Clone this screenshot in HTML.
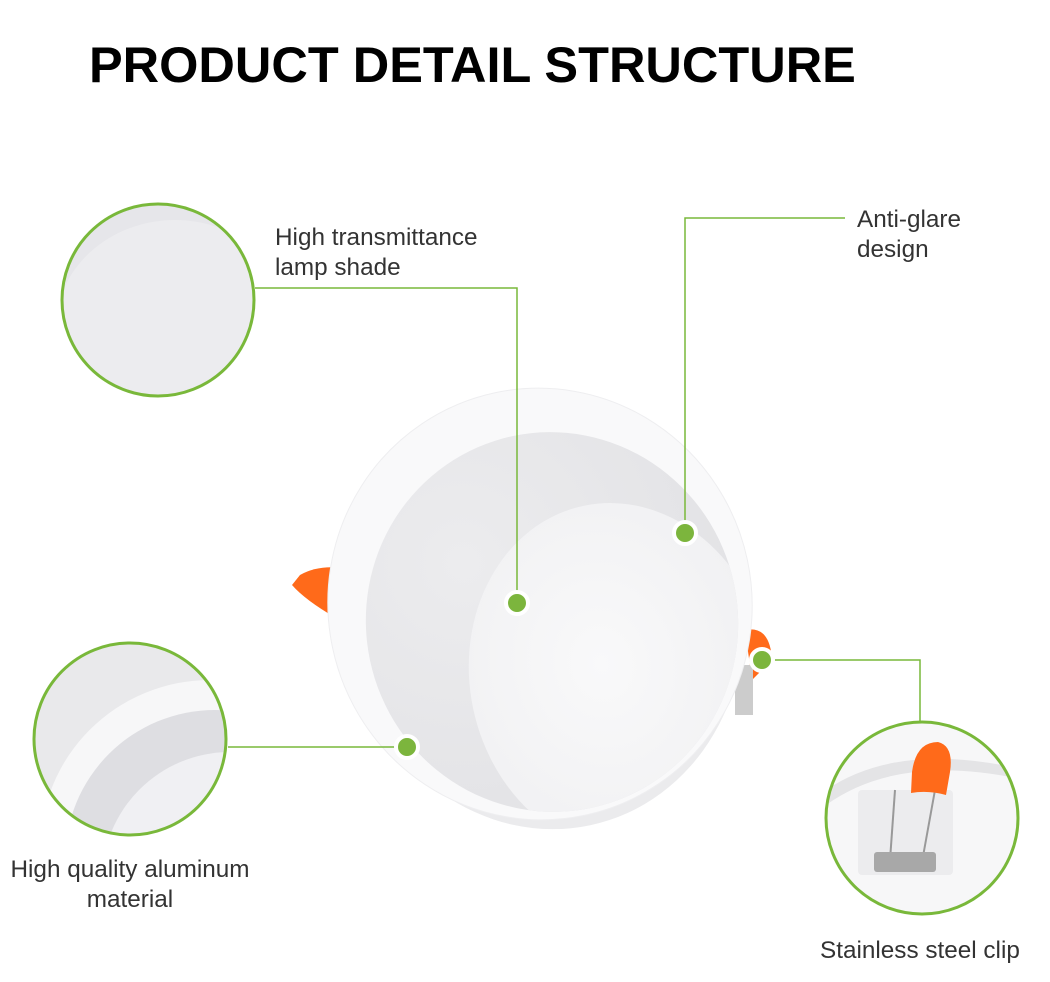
<!DOCTYPE html>
<html><head><meta charset="utf-8"><style>
html,body{margin:0;padding:0;background:#fff;}
svg{display:block;}
text{font-family:"Liberation Sans",Arial,sans-serif;}
</style></head><body>
<svg width="1050" height="982" viewBox="0 0 1050 982" xmlns="http://www.w3.org/2000/svg">
<defs>
<radialGradient id="cav" cx="0.3" cy="0.3" r="0.8"><stop offset="0" stop-color="#ececee"/><stop offset="1" stop-color="#e2e2e5"/></radialGradient>
<radialGradient id="shade" cx="0.45" cy="0.45" r="0.6"><stop offset="0" stop-color="#f9f9fa"/><stop offset="1" stop-color="#f0f0f2"/></radialGradient>
<clipPath id="cavclip"><ellipse cx="552" cy="622" rx="186" ry="190" transform="rotate(-12 552 622)"/></clipPath>
<clipPath id="c1"><circle cx="158" cy="300" r="96"/></clipPath>
<clipPath id="c2"><circle cx="130" cy="739" r="96"/></clipPath>
<clipPath id="c3"><circle cx="922" cy="818" r="96"/></clipPath>
</defs>
<rect width="1050" height="982" fill="#fff"/>
<text x="89" y="82" font-size="50.5" font-weight="bold" fill="#000">PRODUCT DETAIL STRUCTURE</text>

<!-- lamp -->
<path d="M300 575 Q318 565 342 568 L336 618 Q305 600 292 585 Z" fill="#ff6a1a"/>
<path d="M745 630 Q770 625 772 660 L752 680 Z" fill="#ff6a1a"/>
<rect x="735" y="665" width="18" height="50" fill="#ccc"/>
<ellipse cx="545" cy="612" rx="198" ry="218" fill="#ebebed" transform="rotate(-12 545 612)"/>
<ellipse cx="540" cy="604" rx="212" ry="216" fill="#f9f9fa" stroke="#eeeef0" transform="rotate(-12 540 604)"/>
<ellipse cx="552" cy="622" rx="186" ry="190" fill="url(#cav)" transform="rotate(-12 552 622)"/>
<g clip-path="url(#cavclip)">
<ellipse cx="620" cy="678" rx="150" ry="176" fill="url(#shade)" transform="rotate(-12 620 678)"/>
</g>

<!-- circle 1 -->
<g clip-path="url(#c1)"><rect x="60" y="200" width="200" height="200" fill="#e6e6ea"/><ellipse cx="175" cy="330" rx="120" ry="110" fill="#ececef"/></g>
<circle cx="158" cy="300" r="96" fill="none" stroke="#79b83a" stroke-width="3"/>
<!-- circle 2 -->
<g clip-path="url(#c2)"><rect x="30" y="640" width="200" height="200" fill="#e9e9eb"/>
<circle cx="210" cy="850" r="170" fill="#f7f7f8"/><circle cx="215" cy="860" r="150" fill="#dedee2"/><circle cx="230" cy="880" r="128" fill="#f0f0f3"/></g>
<circle cx="130" cy="739" r="96" fill="none" stroke="#79b83a" stroke-width="3"/>
<!-- circle 3 -->
<g clip-path="url(#c3)"><rect x="820" y="715" width="205" height="205" fill="#f7f7f8"/>
<path d="M826 790 Q900 740 1025 770 L1025 780 Q900 752 826 805 Z" fill="#e4e4e6"/>
<rect x="858" y="790" width="95" height="85" rx="4" fill="#ececee"/>
<line x1="895" y1="790" x2="890" y2="860" stroke="#999" stroke-width="2"/>
<line x1="935" y1="790" x2="922" y2="862" stroke="#999" stroke-width="2"/>
<path d="M911 793 L912 772 Q916 742 938 742 Q954 746 950 772 L946 795 Q928 790 911 793 Z" fill="#ff6a1a"/>
<rect x="874" y="852" width="62" height="20" rx="3" fill="#a8a8a8"/>
</g>
<circle cx="922" cy="818" r="96" fill="none" stroke="#79b83a" stroke-width="3"/>

<!-- connectors -->
<g stroke="#79b83a" stroke-width="1.5" fill="none">
<polyline points="255,288 517,288 517,603"/>
<polyline points="845,218 685,218 685,533"/>
<polyline points="228,747 407,747"/>
<polyline points="762,660 920,660 920,722"/>
</g>
<g fill="#7cb53d" stroke="#fff" stroke-width="4">
<circle cx="517" cy="603" r="11"/><circle cx="685" cy="533" r="11"/><circle cx="407" cy="747" r="11"/><circle cx="762" cy="660" r="11"/>
</g>

<g font-size="24.3" fill="#333">
<text x="275" y="245">High transmittance</text>
<text x="275" y="275">lamp shade</text>
<text x="857" y="227">Anti-glare</text>
<text x="857" y="257">design</text>
<text x="130" y="877" text-anchor="middle">High quality aluminum</text>
<text x="130" y="907" text-anchor="middle">material</text>
<text x="820" y="958">Stainless steel clip</text>
</g>
</svg>
</body></html>
